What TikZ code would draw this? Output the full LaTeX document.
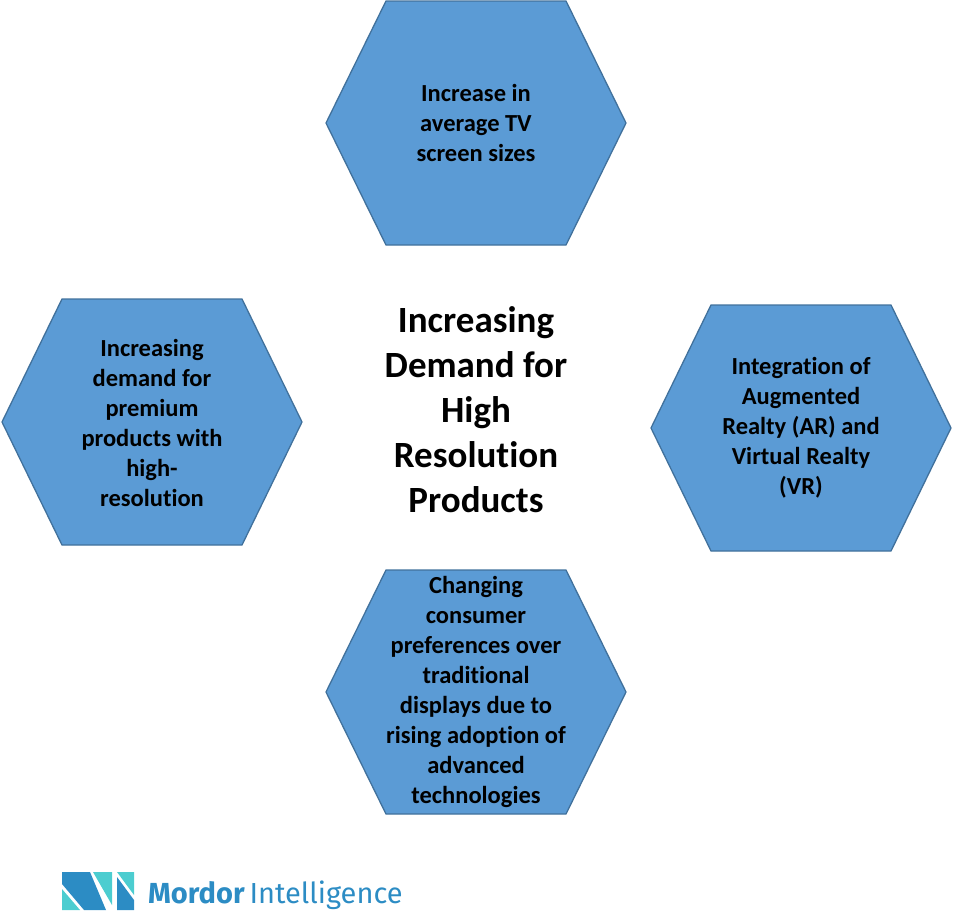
\documentclass[tikz,border=0pt]{standalone}
\usepackage{fontspec}
\setmainfont[Ligatures=NoCommon]{Carlito}
\newfontfamily\logofont{Fira Sans}
\usepackage{tikz}

\definecolor{hexfill}{RGB}{91,155,213}
\definecolor{hexline}{RGB}{65,113,156}
\definecolor{logodark}{RGB}{44,140,196}
\definecolor{logocyan}{RGB}{76,205,208}

\tikzset{
    hexa/.style={fill=hexfill, draw=hexline, line width=1.3pt, line join=miter},
    hextext/.style={align=center, inner sep=0pt, font=\bfseries\fontsize{24.5}{30}\selectfont},
    maintext/.style={align=center, inner sep=0pt, font=\bfseries\fontsize{37}{45}\selectfont}
}

\begin{document}
\begin{tikzpicture}[x=1pt, y=-1pt]
    \useasboundingbox (0,0) rectangle (953,913);

    % Hexagons
    \draw[hexa] (476,123) ++(-150,0) -- ++(60,-122) -- ++(180,0) -- ++(60,122) -- ++(-60,122) -- ++(-180,0) -- cycle;
    \draw[hexa] (152,422) ++(-150,0) -- ++(60,-123) -- ++(180,0) -- ++(60,123) -- ++(-60,123) -- ++(-180,0) -- cycle;
    \draw[hexa] (801,428) ++(-150,0) -- ++(60,-123) -- ++(180,0) -- ++(60,123) -- ++(-60,123) -- ++(-180,0) -- cycle;
    \draw[hexa] (476,692) ++(-150,0) -- ++(60,-122) -- ++(180,0) -- ++(60,122) -- ++(-60,122) -- ++(-180,0) -- cycle;

    % Texts
    \node[maintext] (demand) at (476,410) {Increasing\\Demand for\\High\\Resolution\\Products};
    \node[hextext] (screen) at (476,123) {Increase in\\average TV\\screen sizes};
    \node[hextext] (premium) at (152,423) {Increasing\\demand for\\premium\\products with\\high-\\resolution};
    \node[hextext] (arvr) at (801,428) {Integration of\\Augmented\\Realty (AR) and\\Virtual Realty\\(VR)};
    \node[hextext] (consumer) at (476,692) {Changing\\consumer\\preferences over\\traditional\\displays due to\\rising adoption of\\advanced\\technologies};

    % Logo
    \fill[logodark] (62,872) -- (90,872) -- (106,910) -- (84,910) -- (62,884) -- cycle;
    \fill[logocyan] (62,889) -- (62,910) -- (80,910) -- cycle;
    \fill[logocyan] (93,872) -- (112,872) -- (112,905) -- cycle;
    \fill[logocyan] (117,872) -- (134,872) -- (134,895) -- cycle;
    \fill[logodark] (117,877) -- (134,900) -- (134,910) -- (117,910) -- cycle;
    \node[anchor=base west, inner sep=0pt, text=logodark, font=\logofont\fontsize{29}{29}\selectfont] (logo) at (148,903) {\textbf{Mordor}\,Intelligence};
\end{tikzpicture}
\end{document}
